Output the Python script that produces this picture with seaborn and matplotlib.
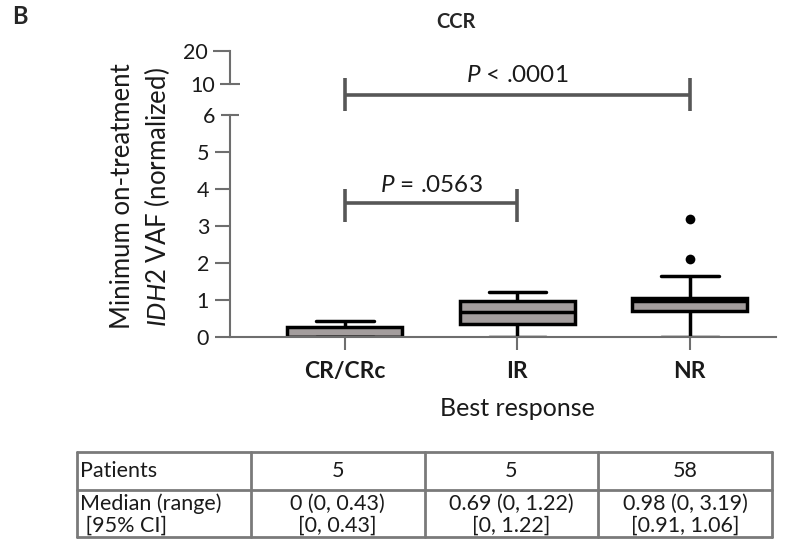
import numpy as np
import pandas as pd
import matplotlib
matplotlib.use("Agg")
import matplotlib.pyplot as plt
import seaborn as sns

# %%
# Data
groups = ["CR/CRc", "IR", "NR"]
# five-number summaries per group: min, Q1, median, Q3, max
cr_vals = [0.0, 0.0, 0.0, 0.27, 0.43]
ir_vals = [0.0, 0.37, 0.69, 0.99, 1.22]
nr_vals = [0.0, 0.71, 0.98, 1.06, 1.65]
nr_outliers = [2.10, 3.19]

p_texts = ["$\\mathit{P}$ = .0563", "$\\mathit{P}$ < .0001"]

row_labels = ["Patients", "Median (range)", " [95% CI]"]
n_patients = ["5", "5", "58"]
median_range = ["0 (0, 0.43)", "0.69 (0, 1.22)", "0.98 (0, 3.19)"]
ci_95 = ["[0, 0.43]", "[0, 1.22]", "[0.91, 1.06]"]

df = pd.DataFrame({
    "group": ["CR/CRc"] * len(cr_vals) + ["IR"] * len(ir_vals) + ["NR"] * len(nr_vals),
    "vaf": cr_vals + ir_vals + nr_vals,
})
out_df = pd.DataFrame({"group": ["NR"] * len(nr_outliers), "vaf": nr_outliers})

# %%
# Style
sns.set_style("ticks")
plt.rcParams["font.family"] = ["Lato", "DejaVu Sans"]
plt.rcParams["mathtext.fontset"] = "custom"
plt.rcParams["mathtext.rm"] = "Lato"
plt.rcParams["mathtext.it"] = "Lato:italic"
plt.rcParams["mathtext.bf"] = "Lato:bold"

W, H = 804, 539
axis_col = "#6e6e6e"
br_col = "#575757"
txt_col = "#1a1a1a"
tick_fs = 15.5
tab_fs = 15.5

fig = plt.figure(figsize=(W / 100, H / 100), dpi=100)

def px_rect(x0, y0, x1, y1):
    return [x0 / W, 1 - y1 / H, (x1 - x0) / W, (y1 - y0) / H]

ax = fig.add_axes(px_rect(230, 115, 776, 337.3))
ax_top = fig.add_axes(px_rect(230, 51, 776, 84))

# %%
# Boxes
sns.boxplot(data=df, x="group", y="vaf", order=groups, whis=(0, 100),
            width=0.667, color="#a39d9d", saturation=1, linecolor="black",
            linewidth=2.5, showfliers=False, ax=ax)
sns.stripplot(data=out_df, x="group", y="vaf", order=groups, jitter=False,
              color="black", size=7, ax=ax)

ax.set_xlim(-0.667, 2.5)
ax.set_ylim(0, 6)
ax.set_yticks([0, 1, 2, 3, 4, 5])
ax.set_yticks([6], minor=True)
ax.set_yticklabels(["0", "1", "2", "3", "4", "5"], fontsize=tick_fs, color=txt_col)
ax.set_yticklabels(["6"], minor=True, fontsize=tick_fs, color=txt_col)
ax.tick_params(axis="y", which="major", length=11, width=1.5, color=axis_col, pad=4)
ax.tick_params(axis="y", which="minor", direction="inout", length=13, width=1.5,
               color=axis_col, pad=4)
ax.set_xticks([0, 1, 2])
ax.set_xticklabels(groups, fontsize=16.5, fontweight="bold", color=txt_col)
ax.tick_params(axis="x", length=9, width=1.5, color=axis_col, pad=8)
ax.set_xlabel("")
ax.set_ylabel("")
for s in ["top", "right"]:
    ax.spines[s].set_visible(False)
for s in ["left", "bottom"]:
    ax.spines[s].set_color(axis_col)
    ax.spines[s].set_linewidth(1.5)

# upper segment of the broken axis
ax_top.set_ylim(10, 20)
ax_top.set_xlim(-0.667, 2.5)
ax_top.set_xticks([])
ax_top.set_yticks([20])
ax_top.set_yticks([10], minor=True)
ax_top.set_yticklabels(["20"], fontsize=tick_fs, color=txt_col)
ax_top.set_yticklabels(["10"], minor=True, fontsize=tick_fs, color=txt_col)
ax_top.tick_params(axis="y", which="major", length=12, width=1.5, color=axis_col, pad=4)
ax_top.tick_params(axis="y", which="minor", direction="inout", length=14, width=1.5,
                   color=axis_col, pad=4)
for s in ["top", "right", "bottom"]:
    ax_top.spines[s].set_visible(False)
ax_top.spines["left"].set_color(axis_col)
ax_top.spines["left"].set_linewidth(1.5)
ax_top.patch.set_alpha(0)

# %%
# Significance brackets
def bracket(x0, x1, y, lo, hi, label, ty):
    kw = dict(color=br_col, lw=2.6, clip_on=False, solid_capstyle="butt")
    ax.plot([x0, x1], [y, y], **kw)
    ax.plot([x0, x0], [lo, hi], **kw)
    ax.plot([x1, x1], [lo, hi], **kw)
    ax.text((x0 + x1) / 2, ty, label, ha="center", va="baseline",
            fontsize=17.5, color=txt_col)

bracket(0, 1, 3.62, 3.10, 4.01, p_texts[0], 3.93)
bracket(0, 2, 6.54, 6.10, 7.00, p_texts[1], 6.89)

# %%
# Labels
fig.text(12 / W, 1 - 17 / H, "B", fontsize=17, fontweight="bold", va="center")
fig.text(456 / W, 1 - 22 / H, "CCR", fontsize=14.5, fontweight="bold",
         ha="center", va="center")
fig.text(123 / W, 1 - 196 / H, "Minimum on-treatment", rotation=90,
         fontsize=18.5, ha="center", va="center", color=txt_col)
fig.text(157 / W, 1 - 197 / H, "$\\mathit{IDH2}$ VAF (normalized)", rotation=90,
         fontsize=18.5, ha="center", va="center", color=txt_col)
fig.text(517 / W, 1 - 408 / H, "Best response", fontsize=18,
         ha="center", va="center", color=txt_col)

# %%
# Summary table
tab = fig.add_axes(px_rect(77, 452, 772, 537))
tab.set_xlim(0, 4)
tab.set_ylim(85, 0)
tab.axis("off")
grid_kw = dict(color="#7a7a7a", lw=2, clip_on=False)
for yy in [0, 38, 85]:
    tab.plot([0, 4], [yy, yy], **grid_kw)
for xx in range(5):
    tab.plot([xx, xx], [0, 85], **grid_kw)

tab.text(0.02, 19, row_labels[0], fontsize=tab_fs, va="center", color=txt_col)
tab.text(0.02, 52, row_labels[1], fontsize=tab_fs, va="center", color=txt_col)
tab.text(0.02, 74, row_labels[2], fontsize=tab_fs, va="center", color=txt_col)
for i in range(3):
    tab.text(i + 1.5, 19, n_patients[i], fontsize=tab_fs, ha="center", va="center", color=txt_col)
    tab.text(i + 1.5, 52, median_range[i], fontsize=tab_fs, ha="center", va="center", color=txt_col)
    tab.text(i + 1.5, 74, ci_95[i], fontsize=tab_fs, ha="center", va="center", color=txt_col)

fig.savefig("out.png", dpi=100, facecolor="white")
